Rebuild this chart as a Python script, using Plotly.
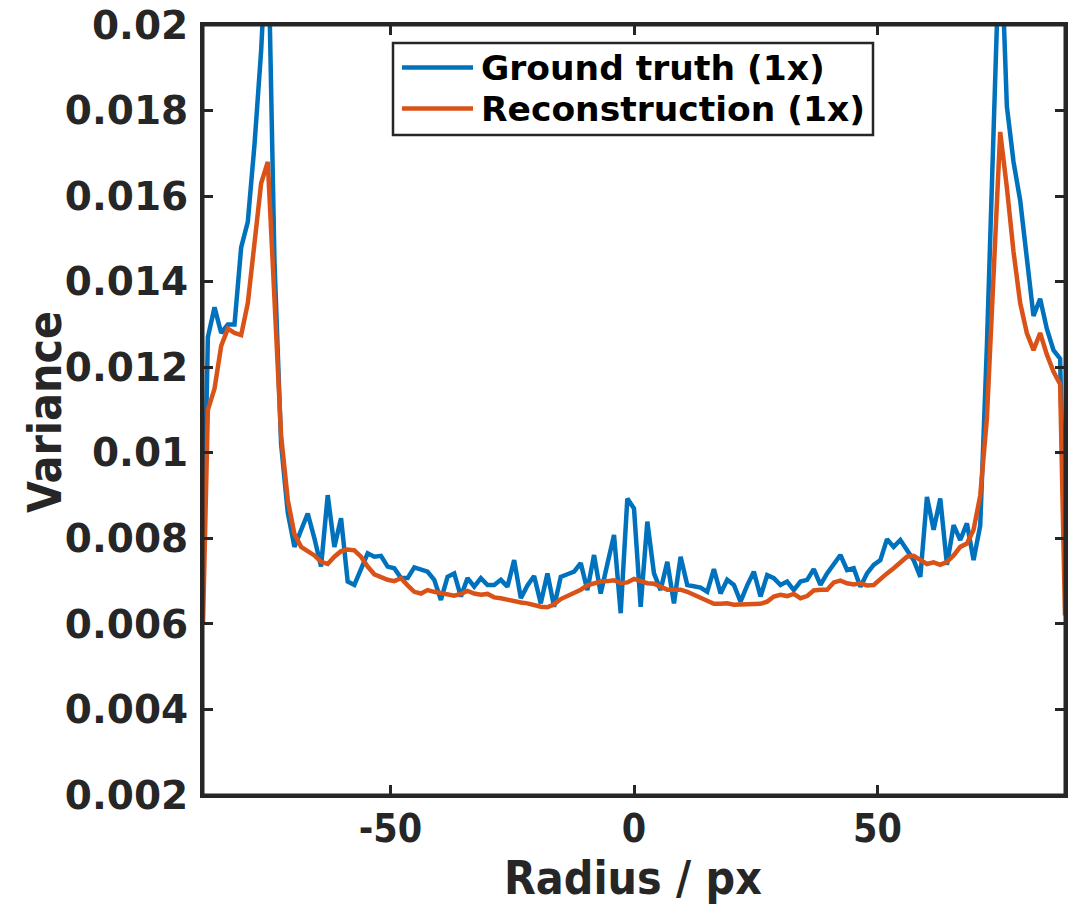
import plotly.graph_objects as go

# Sample positions (radius, px): two edge samples plus 129 evenly spaced samples
radius = [-88.5] + [round(-87.5 + j * 175 / 128, 4) for j in range(129)] + [88.5]

ground_truth = [
    0.0070,
    0.0127, 0.0134, 0.0128, 0.0130, 0.0130, 0.0148, 0.0154, 0.0172, 0.0194, 0.0225,
    0.0145, 0.0102, 0.0086, 0.0078, 0.0082, 0.00858, 0.0080, 0.00734, 0.00901, 0.0078,
    0.00847, 0.00699, 0.00691, 0.0073, 0.00765, 0.00757, 0.00759, 0.00734, 0.0073, 0.00707,
    0.00707, 0.00732, 0.00728, 0.00722, 0.00703, 0.00656, 0.0071, 0.00718, 0.00664, 0.00707,
    0.00687, 0.00707, 0.00691, 0.00691, 0.00703, 0.00687, 0.00749, 0.0066, 0.0069, 0.00712,
    0.00648, 0.00718, 0.0064, 0.0071, 0.00716, 0.00722, 0.00742, 0.00679, 0.00761, 0.00671,
    0.0074, 0.00808, 0.00625, 0.00893, 0.0087, 0.0064, 0.00839, 0.00718, 0.00679, 0.00745,
    0.00648, 0.00757, 0.00691, 0.00687, 0.00685, 0.00675, 0.00728, 0.00671, 0.00703, 0.00691,
    0.00652, 0.0069, 0.00722, 0.00664, 0.00714, 0.00707, 0.00691, 0.00699, 0.00679, 0.00699,
    0.00703, 0.00728, 0.00691, 0.00718, 0.0074, 0.00761, 0.00726, 0.0073, 0.00687, 0.00718,
    0.00738, 0.00749, 0.00798, 0.0078, 0.00796, 0.00773, 0.00749, 0.0071, 0.00897, 0.0082,
    0.00893, 0.00738, 0.00831, 0.00796, 0.00835, 0.00749, 0.0083, 0.0125, 0.0175, 0.0225,
    0.0181, 0.0168, 0.0159, 0.0145, 0.0132, 0.0136, 0.0129, 0.0124, 0.0122,
    0.0070,
]

reconstruction = [
    0.0060,
    0.0110, 0.0115, 0.0125, 0.0129, 0.0128, 0.01275, 0.0135, 0.0149, 0.0163, 0.0168,
    0.0137, 0.0104, 0.0089, 0.0081, 0.0078, 0.0077, 0.0076, 0.00745, 0.0074, 0.00757,
    0.0077, 0.00774, 0.00772, 0.00757, 0.00734, 0.00716, 0.0071, 0.00703, 0.0070, 0.00707,
    0.0069, 0.00675, 0.00671, 0.00679, 0.00675, 0.00672, 0.0067, 0.00666, 0.0067, 0.00677,
    0.00671, 0.00668, 0.0067, 0.00662, 0.0066, 0.00656, 0.00653, 0.0065, 0.00648, 0.00643,
    0.0064, 0.00639, 0.00646, 0.00658, 0.00665, 0.00672, 0.0068, 0.0069, 0.00695, 0.00699,
    0.0070, 0.00702, 0.00695, 0.00697, 0.00705, 0.0070, 0.00695, 0.00694, 0.00686, 0.0068,
    0.0068, 0.0068, 0.00675, 0.00668, 0.0066, 0.00652, 0.00647, 0.00647, 0.00648, 0.00645,
    0.00645, 0.00645, 0.00647, 0.00647, 0.00652, 0.00664, 0.00668, 0.00665, 0.0067, 0.0066,
    0.00665, 0.00678, 0.0068, 0.0068, 0.00697, 0.00701, 0.00695, 0.00692, 0.00695, 0.0069,
    0.00691, 0.00706, 0.00718, 0.0073, 0.00745, 0.00757, 0.00759, 0.00748, 0.0074, 0.00744,
    0.00738, 0.00745, 0.0076, 0.0078, 0.00788, 0.0082, 0.0090, 0.0108, 0.0140, 0.0175,
    0.0162, 0.0147, 0.0135, 0.0128, 0.0124, 0.0128, 0.0123, 0.0119, 0.0116,
    0.0062,
]

series_names = ["Ground truth (1x)", "Reconstruction (1x)"]
series_colors = ["#0072BD", "#D95319"]
x_ticks = [-50, 0, 50]
x_tick_labels = ["-50", "0", "50"]
y_ticks = [0.002, 0.004, 0.006, 0.008, 0.01, 0.012, 0.014, 0.016, 0.018, 0.02]
y_tick_labels = ["0.002", "0.004", "0.006", "0.008", "0.01", "0.012", "0.014", "0.016", "0.018", "0.02"]
x_title = "Radius / px"
y_title = "Variance"

AX = "#262626"
COND = "DejaVu Sans Condensed, DejaVu Sans"
fig = go.Figure()
fig.add_trace(go.Scatter(x=radius, y=ground_truth, mode="lines", name=series_names[0],
                         line=dict(color=series_colors[0], width=4.5), showlegend=False))
fig.add_trace(go.Scatter(x=radius, y=reconstruction, mode="lines", name=series_names[1],
                         line=dict(color=series_colors[1], width=4.5), showlegend=False))

FW, FH = 1074, 906
L, R, T, B = 203, 1065, 25, 795          # plot area in page pixels
W, H = R - L, B - T
def px(xp):
    return (xp - L) / W
def py(yp):
    return (B - yp) / H

shapes = [
    # axes box (drawn on top, as in the reference)
    dict(type="rect", xref="paper", yref="paper", x0=0, x1=1, y0=0, y1=1,
         line=dict(color=AX, width=3), layer="above"),
    # legend box
    dict(type="rect", xref="paper", yref="paper",
         x0=px(393), x1=px(873), y0=py(135), y1=py(43),
         line=dict(color=AX, width=2.5), fillcolor="white", layer="above"),
]
annotations = []
for i, (name, col) in enumerate(zip(series_names, series_colors)):
    yrow = 67.5 + 41 * i
    shapes.append(dict(type="line", xref="paper", yref="paper",
                       x0=px(402), x1=px(473), y0=py(yrow), y1=py(yrow),
                       line=dict(color=col, width=4.5), layer="above"))
    annotations.append(dict(text=name, xref="paper", yref="paper", x=px(479), y=py(yrow),
                            xanchor="left", yanchor="middle", showarrow=False,
                            font=dict(family="DejaVu Sans", size=34.5, color="black", weight="bold")))

annotations.append(dict(text=x_title, xref="paper", yref="paper", x=px(633), y=py(878),
                        xanchor="center", yanchor="middle", showarrow=False,
                        font=dict(family=COND, size=46, color=AX, weight="bold")))
annotations.append(dict(text=y_title, xref="paper", yref="paper", x=px(45), y=py(412),
                        xanchor="center", yanchor="middle", showarrow=False, textangle=-90,
                        font=dict(family=COND, size=46, color=AX, weight="bold")))

fig.update_layout(
    width=FW, height=FH,
    margin=dict(l=L, r=FW - R, t=T, b=FH - B, autoexpand=False),
    paper_bgcolor="white", plot_bgcolor="white",
    showlegend=False,
    shapes=shapes, annotations=annotations,
    xaxis=dict(range=[-88.5, 88.5], tickmode="array", tickvals=x_ticks, ticktext=x_tick_labels,
               ticks="inside", ticklen=10, tickwidth=2.5, tickcolor=AX,
               showline=True, linecolor=AX, linewidth=3, mirror="ticks",
               showgrid=False, zeroline=False, automargin=False, ticklabelstandoff=-3,
               tickfont=dict(family=COND, size=39, color=AX, weight="bold")),
    yaxis=dict(range=[0.002, 0.02], tickmode="array", tickvals=y_ticks, ticktext=y_tick_labels,
               ticks="inside", ticklen=10, tickwidth=2.5, tickcolor=AX,
               showline=True, linecolor=AX, linewidth=3, mirror="ticks",
               showgrid=False, zeroline=False, automargin=False, ticklabelstandoff=4,
               ticklabeloverflow="allow",
               tickfont=dict(family="DejaVu Sans", size=39, color=AX, weight="bold")),
)

fig.write_html("out.html", config={"displayModeBar": False},
               post_script="document.body.style.margin='0';document.body.style.overflow='hidden';")
